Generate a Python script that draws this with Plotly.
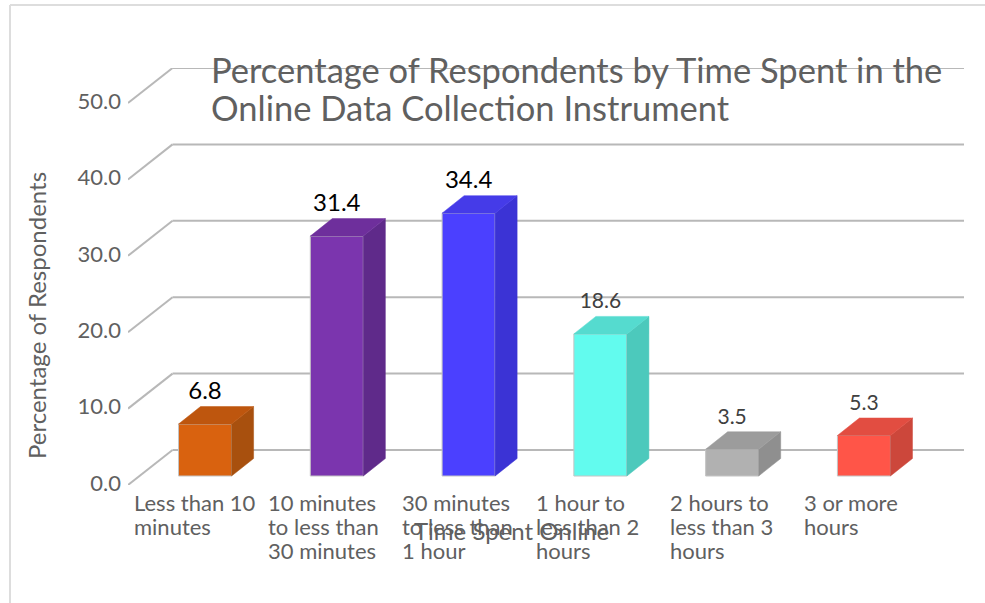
import plotly.graph_objects as go

categories = [["Less than 10", "minutes"], ["10 minutes", "to less than", "30 minutes"], ["30 minutes", "to less than", "1 hour"],
              ["1 hour to", "less than 2", "hours"], ["2 hours to", "less than 3", "hours"], ["3 or more", "hours"]]
values = [6.8, 31.4, 34.4, 18.6, 3.5, 5.3]
front_colors = ["#D9620F", "#7B35AE", "#4B40FF", "#62FBEE", "#B1B1B1", "#FF5548"]
side_colors = ["#A8500E", "#5F2A8A", "#3B33D5", "#4CC9BC", "#8F8F8F", "#CC473B"]
top_colors = ["#BE560E", "#6E2F9C", "#453BE8", "#55DBCF", "#9C9C9C", "#E24D41"]
label_colors = ["#000000", "#000000", "#000000", "#404040", "#404040", "#404040"]
label_sizes = [24, 24, 24, 21, 21, 21]
y_ticks = [0, 10, 20, 30, 40, 50]
y_tick_text = ["0.0", "10.0", "20.0", "30.0", "40.0", "50.0"]
title_lines = ["Percentage of Respondents by Time Spent in the", "Online Data Collection Instrument"]

PX_X = 131.7
PX_Y = 7.64
X_LEFT, X_RIGHT = (128.5 - 205.5) / PX_X, (964 - 205.5) / PX_X
WALL_DX, WALL_DY = 44.5 / PX_X, 35 / PX_Y
LIFT = 9 / PX_Y
BAR_W = 53 / PX_X
DX, DY = 22 / PX_X, 17.5 / PX_Y
GRID = "#B8B8B8"
TEXT = "#606060"
FONT = "Lato"

fig = go.Figure()
xs = list(range(len(values)))

fig.add_trace(go.Bar(x=xs, y=values, base=LIFT, width=BAR_W,
                     marker=dict(color=front_colors, line=dict(color="#C4C4C4", width=1))))

for i, v in zip(xs, values):
    l, r = i - BAR_W / 2, i + BAR_W / 2
    t = LIFT + v
    fig.add_trace(go.Scatter(x=[r, r + DX, r + DX, r, r], y=[LIFT, LIFT + DY, t + DY, t, LIFT],
                             mode="lines", fill="toself", fillcolor=side_colors[i],
                             line=dict(color=side_colors[i], width=0.5)))
    fig.add_trace(go.Scatter(x=[l, l + DX, r + DX, r, l], y=[t, t + DY, t + DY, t, t],
                             mode="lines", fill="toself", fillcolor=top_colors[i],
                             line=dict(color=top_colors[i], width=0.5)))

fig.add_trace(go.Scatter(x=xs, y=[LIFT + v + DY + 1.75 for v in values],
                         mode="text", text=[f"{v:.1f}" for v in values], textposition="middle center",
                         textfont=dict(family=FONT, size=label_sizes, color=label_colors)))

shapes = []
for v in y_ticks:
    shapes.append(dict(type="line", xref="x", yref="y", layer="below",
                       x0=X_LEFT, y0=v, x1=X_LEFT + WALL_DX, y1=v + WALL_DY,
                       line=dict(color=GRID, width=2)))
    shapes.append(dict(type="line", xref="x", yref="y", layer="below",
                       x0=X_LEFT + WALL_DX, y0=v + WALL_DY, x1=X_RIGHT, y1=v + WALL_DY,
                       line=dict(color=GRID, width=2)))
W, H = 985, 603
ML, MR, MT, MB = 128, 21, 68, 118
PW, PH = W - ML - MR, H - MT - MB
def px(x): return (x - ML) / PW
def py(y): return (H - MB - y) / PH
shapes.append(dict(type="line", xref="paper", yref="paper", x0=px(10), y0=py(5), x1=px(985), y1=py(5),
                   line=dict(color="#DDDDDD", width=2)))
shapes.append(dict(type="line", xref="paper", yref="paper", x0=px(10), y0=py(5), x1=px(10), y1=py(603),
                   line=dict(color="#DDDDDD", width=2)))

annotations = []
for i, lines in enumerate(categories):
    for k, line in enumerate(lines):
        annotations.append(dict(x=px(132 + 134 * i), y=py(502 + 24 * k), xref="paper", yref="paper", text=line,
                                showarrow=False, xanchor="left", yanchor="middle", align="left",
                                font=dict(family=FONT, size=22, color=TEXT)))
annotations.append(dict(x=px(36), y=py(316), xref="paper", yref="paper", text="Percentage of Respondents",
                        textangle=-90, showarrow=False, xanchor="center", yanchor="middle",
                        font=dict(family=FONT, size=24, color=TEXT)))
annotations.append(dict(x=px(511), y=py(530), xref="paper", yref="paper", text="Time Spent Online",
                        showarrow=False, xanchor="center", yanchor="middle",
                        font=dict(family=FONT, size=24, color=TEXT)))
for k, line in enumerate(title_lines):
    annotations.append(dict(x=px(209), y=py(70 + 38 * k), xref="paper", yref="paper", text=line,
                            showarrow=False, xanchor="left", yanchor="middle", align="left",
                            font=dict(family=FONT, size=34.5, color=TEXT)))

fig.update_layout(width=W, height=H, margin=dict(l=ML, r=MR, t=MT, b=MB, pad=0),
                  paper_bgcolor="white", plot_bgcolor="white", showlegend=False,
                  shapes=shapes, annotations=annotations,
                  xaxis=dict(visible=False, range=[X_LEFT, X_RIGHT], fixedrange=True),
                  yaxis=dict(range=[0, (H - MB - MT) / PX_Y], tickvals=y_ticks, ticktext=y_tick_text,
                             showgrid=False, zeroline=False, showline=False, ticks="", ticklabelstandoff=6,
                             ticklabelshift=-2,
                             tickfont=dict(family=FONT, size=22, color=TEXT), fixedrange=True))

fig.write_html("out.html", config=dict(displayModeBar=False),
               post_script="document.body.style.margin='0';document.body.style.overflow='hidden';")
